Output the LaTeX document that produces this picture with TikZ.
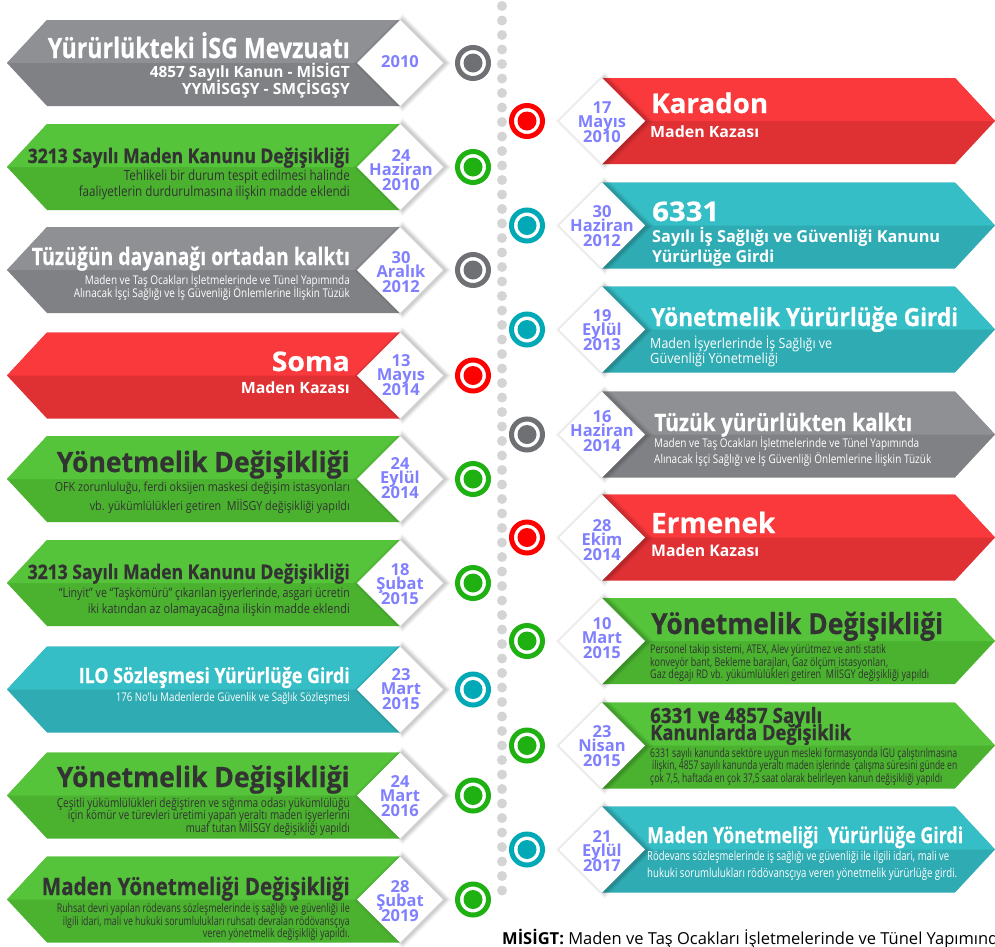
\documentclass[tikz,border=0pt]{standalone}
\usepackage{fontspec}
\usepackage{graphicx}
\setmainfont{Open Sans}
\newfontfamily\hvy{Open Sans}[BoldFeatures={FakeBold=0.6}]

% banner colours: light upper half, darker lower half
\definecolor{grayA}{HTML}{8E9093}
\definecolor{grayB}{HTML}{7F8184}
\definecolor{greenA}{HTML}{55C43A}
\definecolor{greenB}{HTML}{4AB22F}
\definecolor{redA}{HTML}{F9393C}
\definecolor{redB}{HTML}{DF3034}
\definecolor{tealA}{HTML}{36BEC6}
\definecolor{tealB}{HTML}{2FABB3}
\definecolor{darktxt}{HTML}{333333}
\definecolor{datec}{HTML}{8080FF}
\definecolor{ringgray}{HTML}{6E7073}
\definecolor{ringgreen}{HTML}{1FB012}
\definecolor{ringred}{HTML}{FF0000}
\definecolor{ringteal}{HTML}{00A9B5}
\definecolor{dotc}{HTML}{D4D4D4}

\newcommand\hb[1]{\fontsize{#1}{#1}\selectfont\bfseries}
\newcommand\hk[1]{\fontsize{#1}{#1}\selectfont\hvy\bfseries}
\newcommand\hr[1]{\fontsize{#1}{#1}\selectfont}
\newcommand\fitto[2]{\resizebox{#1pt}{\height}{#2}}

\tikzset{
  te/.style={anchor=base east, inner sep=0},
  tw/.style={anchor=base west, inner sep=0},
  wt/.style={text=white},
  dk/.style={text=darktxt},
  dtf/.style={anchor=base, inner sep=0, text=datec, font=\hb{16.5}},
}

% soft glow behind a date diamond
\newcommand\dshadow[2]{%
  \foreach \k/\o in {6/0.035,4.5/0.045,3/0.055,1.5/0.065}{%
    \fill[black,opacity=\o] (#1+2.5-43-\k,#2) -- (#1+2.5,#2-43-\k)
      -- (#1+2.5+43+\k,#2) -- (#1+2.5,#2+43+\k) -- cycle;}}

% left banner: arrow to the left, date diamond at its right end
\newcommand\lbanner[3]{%
  \fill[#3] (7,#1) -- (47,#1-43) -- (400,#1-43) -- (400,#1+43) -- (47,#1+43) -- cycle;
  \fill[#2] (7,#1) -- (47,#1-43) -- (400,#1-43) -- (400,#1) -- cycle;
  \dshadow{400}{#1}
  \fill[white] (357,#1) -- (400,#1-43) -- (443,#1) -- (400,#1+43) -- cycle;}

% right banner: arrow to the right, date diamond at its left end
\newcommand\rbanner[3]{%
  \fill[#3] (602,#1-43) -- (955,#1-43) -- (995,#1) -- (955,#1+43) -- (602,#1+43) -- cycle;
  \fill[#2] (602,#1-43) -- (955,#1-43) -- (995,#1) -- (602,#1) -- cycle;
  \dshadow{602}{#1}
  \fill[white] (559,#1) -- (602,#1-43) -- (645,#1) -- (602,#1+43) -- cycle;}

% ring marker on the timeline
\newcommand\tlring[3]{%
  \draw[#3, line width=5] (#1,#2) circle (15.5);
  \fill[#3] (#1,#2) circle (9.5);}

% text lines
\newcommand\ltx[5]{\node[te,#4] (#1) at (350,#2) {\fitto{#3}{#5}};}
\newcommand\rtx[6]{\node[tw,#5] (#1) at (#2,#3) {\fitto{#4}{#6}};}
\newcommand\dts[6]{%
  \node[dtf] (#1a) at (#2,#3) {#4};
  \node[dtf] (#1b) at (#2,#3+14.8) {#5};
  \node[dtf] (#1c) at (#2,#3+29.6) {#6};}

\begin{document}
\begin{tikzpicture}[x=1pt,y=-1pt]
\clip (0,0) rectangle (995,946);
\fill[white] (0,0) rectangle (995,946);

% dotted timeline
\foreach \i in {0,...,61} \fill[dotc] (502,6+14.5*\i) circle (5);

% ---------- left column ----------
\lbanner{63}{grayA}{grayB}
\lbanner{167}{greenA}{greenB}
\lbanner{270}{grayA}{grayB}
\lbanner{375.5}{redA}{redB}
\lbanner{479}{greenA}{greenB}
\lbanner{583}{greenA}{greenB}
\lbanner{689.5}{tealA}{tealB}
\lbanner{795.5}{greenA}{greenB}
\lbanner{899.5}{greenA}{greenB}

\tlring{473}{63}{ringgray}
\tlring{473}{167}{ringgreen}
\tlring{473}{270}{ringgray}
\tlring{473}{375.5}{ringred}
\tlring{473}{479}{ringgreen}
\tlring{473}{583}{ringgreen}
\tlring{473}{689.5}{ringteal}
\tlring{473}{795.5}{ringgreen}
\tlring{473}{899.5}{ringgreen}

% ---------- right column ----------
\rbanner{121}{redA}{redB}
\rbanner{225.5}{tealA}{tealB}
\rbanner{329.5}{tealA}{tealB}
\rbanner{434.5}{grayA}{grayB}
\rbanner{537.5}{redA}{redB}
\rbanner{641}{greenA}{greenB}
\rbanner{745.5}{greenA}{greenB}
\rbanner{849.5}{tealA}{tealB}

\tlring{527}{121}{ringred}
\tlring{527}{225.5}{ringteal}
\tlring{527}{329.5}{ringteal}
\tlring{527}{434.5}{ringgray}
\tlring{527}{537.5}{ringred}
\tlring{527}{641}{ringgreen}
\tlring{527}{745.5}{ringgreen}
\tlring{527}{849.5}{ringteal}

% ---------- left texts ----------
\ltx{l1a}{58}{302}{wt,font=\hk{28}}{Yürürlükteki İSG Mevzuatı}
\ltx{l1b}{77}{200}{wt,font=\hb{15.5}}{4857 Sayılı Kanun - MİSİGT}
\ltx{l1c}{94}{168}{wt,font=\hb{15.5}}{YYMİSGŞY - SMÇİSGŞY}
\node[dtf] (d1) at (400,67) {2010};

\ltx{l2a}{163}{322}{dk,font=\hk{20}}{3213 Sayılı Maden Kanunu Değişikliği}
\ltx{l2b}{180}{226}{dk,font=\hr{14}}{Tehlikeli bir durum tespit edilmesi halinde}
\ltx{l2c}{196}{271}{dk,font=\hr{14}}{faaliyetlerin durdurulmasına ilişkin madde eklendi}
\dts{d2}{401}{161}{24}{Haziran}{2010}

\ltx{l3a}{265}{318}{wt,font=\hk{24}}{Tüzüğün dayanağı ortadan kalktı}
\ltx{l3b}{284}{265}{wt,font=\hr{12}}{Maden ve Taş Ocakları İşletmelerinde ve Tünel Yapımında}
\ltx{l3c}{297}{276}{wt,font=\hr{12}}{Alınacak İşçi Sağlığı ve İş Güvenliği Önlemlerine İlişkin Tüzük}
\dts{d3}{401}{263}{30}{Aralık}{2012}

\ltx{l4a}{371}{78}{wt,font=\hk{27}}{Soma}
\ltx{l4b}{393}{109}{wt,font=\hb{15.5}}{Maden Kazası}
\dts{d4}{401}{366}{13}{Mayıs}{2014}

\ltx{l5a}{472}{293}{dk,font=\hk{28}}{Yönetmelik Değişikliği}
\ltx{l5b}{491}{295}{dk,font=\hr{12.5}}{OFK zorunluluğu, ferdi oksijen maskesi değişim istasyonları}
\ltx{l5c}{510}{260}{dk,font=\hr{12.5}}{vb. yükümlülükleri getiren\ \ MİİSGY değişikliği yapıldı}
\dts{d5}{400}{469}{24}{Eylül}{2014}

\ltx{l6a}{579}{322}{dk,font=\hk{20}}{3213 Sayılı Maden Kanunu Değişikliği}
\ltx{l6b}{597}{291}{dk,font=\hr{13}}{“Linyit” ve “Taşkömürü” çıkarılan işyerlerinde, asgari ücretin}
\ltx{l6c}{613}{262}{dk,font=\hr{13}}{iki katından az olamayacağına ilişkin madde eklendi}
\dts{d6}{400}{575}{18}{Şubat}{2015}

\ltx{l7a}{683}{271}{wt,font=\hk{21}}{ILO Sözleşmesi Yürürlüğe Girdi}
\ltx{l7b}{701}{234}{wt,font=\hr{12}}{176 No'lu Madenlerde Güvenlik ve Sağlık Sözleşmesi}
\dts{d7}{401}{680}{23}{Mart}{2015}

\ltx{l8a}{787}{293}{dk,font=\hk{28}}{Yönetmelik Değişikliği}
\ltx{l8b}{807}{293}{dk,font=\hr{12.5}}{Çeşitli yükümlülükleri değiştiren ve sığınma odası yükümlülüğü}
\ltx{l8c}{819.5}{282}{dk,font=\hr{12.5}}{için kömür ve türevleri üretimi yapan yeraltı maden işyerlerini}
\ltx{l8d}{832}{164}{dk,font=\hr{12.5}}{muaf tutan MİİSGY değişikliği yapıldı}
\dts{d8}{400}{787}{24}{Mart}{2016}

\ltx{l9a}{895}{308}{dk,font=\hk{24}}{Maden Yönetmeliği Değişikliği}
\ltx{l9b}{912}{293}{dk,font=\hr{12}}{Ruhsat devri yapılan rödevans sözleşmelerinde iş sağlığı ve güvenliği ile}
\ltx{l9c}{925}{287}{dk,font=\hr{12}}{ilgili idari, mali ve hukuki sorumlulukları ruhsatı devralan rödövansçıya}
\ltx{l9d}{937}{147}{dk,font=\hr{12}}{veren yönetmelik değişikliği yapıldı.}
\dts{d9}{400}{892}{28}{Şubat}{2019}

% ---------- right texts ----------
\rtx{r1a}{651}{113}{117}{wt,font=\hk{27}}{Karadon}
\rtx{r1b}{650}{137}{109}{wt,font=\hb{15.5}}{Maden Kazası}
\dts{e1}{602}{113}{17}{Mayıs}{2010}

\rtx{r2a}{652}{221}{67}{wt,font=\hk{27}}{6331}
\rtx{r2b}{652}{242}{288}{wt,font=\hb{16.5}}{Sayılı İş Sağlığı ve Güvenliği Kanunu}
\rtx{r2c}{652}{262}{122}{wt,font=\hb{16.5}}{Yürürlüğe Girdi}
\dts{e2}{602}{217}{30}{Haziran}{2012}

\rtx{r3a}{651}{326}{307}{wt,font=\hk{25}}{Yönetmelik Yürürlüğe Girdi}
\rtx{r3b}{650}{348}{182}{wt,font=\hr{14}}{Maden İşyerlerinde İş Sağlığı ve}
\rtx{r3c}{650}{363}{128}{wt,font=\hr{14}}{Güvenliği Yönetmeliği}
\dts{e3}{602}{321}{19}{Eylül}{2013}

\rtx{r4a}{654}{431}{258}{wt,font=\hk{24}}{Tüzük yürürlükten kalktı}
\rtx{r4b}{654}{447}{265}{wt,font=\hr{12}}{Maden ve Taş Ocakları İşletmelerinde ve Tünel Yapımında}
\rtx{r4c}{654}{463}{277}{wt,font=\hr{12}}{Alınacak İşçi Sağlığı ve İş Güvenliği Önlemlerine İlişkin Tüzük}
\dts{e4}{602}{422}{16}{Haziran}{2014}

\rtx{r5a}{651}{533}{124}{wt,font=\hk{28}}{Ermenek}
\rtx{r5b}{651}{556}{108}{wt,font=\hb{16}}{Maden Kazası}
\dts{e5}{602}{531}{28}{Ekim}{2014}

\rtx{r6a}{651}{634}{292}{dk,font=\hk{29}}{Yönetmelik Değişikliği}
\rtx{r6b}{650}{653}{236}{dk,font=\hr{12}}{Personel takip sistemi, ATEX, Alev yürütmez ve anti statik}
\rtx{r6c}{650}{666}{238}{dk,font=\hr{12}}{konveyör bant, Bekleme barajları, Gaz ölçüm istasyonları,}
\rtx{r6d}{650}{678}{279}{dk,font=\hr{12}}{Gaz degajı RD vb. yükümlülükleri getiren\ \ MİİSGY değişikliği yapıldı}
\dts{e6}{602}{629}{10}{Mart}{2015}

\rtx{r7a}{650}{723}{172}{dk,font=\hk{21},text depth=0pt}{6331 ve 4857 Sayılı}
\rtx{r7b}{650}{740}{201}{dk,font=\hk{21},text height=14pt}{Kanunlarda Değişiklik}
\rtx{r7c}{650}{757}{307}{dk,font=\hr{12}}{6331 sayılı kanunda sektöre uygun mesleki formasyonda İGU çalıştırılmasına}
\rtx{r7d}{652}{769.5}{305}{dk,font=\hr{12}}{ilişkin, 4857 sayılı kanunda yeraltı maden işlerinde\ \ çalışma süresini günde en}
\rtx{r7e}{650}{782}{292}{dk,font=\hr{12}}{çok 7,5, haftada en çok 37,5 saat olarak belirleyen kanun değişikliği yapıldı}
\dts{e7}{602}{737}{23}{Nisan}{2015}

\rtx{r8a}{647}{843}{316}{wt,font=\hk{22}}{Maden Yönetmeliği\ \ Yürürlüğe Girdi}
\rtx{r8b}{647}{860}{302}{wt,font=\hr{12.5}}{Rödevans sözleşmelerinde iş sağlığı ve güvenliği ile ilgili idari, mali ve}
\rtx{r8c}{647}{877}{310}{wt,font=\hr{12.5}}{hukuki sorumlulukları rödövansçıya veren yönetmelik yürürlüğe girdi.}
\dts{e8}{602}{842}{21}{Eylül}{2017}

% ---------- footnote ----------
\node[tw, text=black, font=\hr{16.5}] (note) at (502,944)
  {{\bfseries MİSİGT:} Maden ve Taş Ocakları İşletmelerinde ve Tünel Yapımında};
\end{tikzpicture}
\end{document}
